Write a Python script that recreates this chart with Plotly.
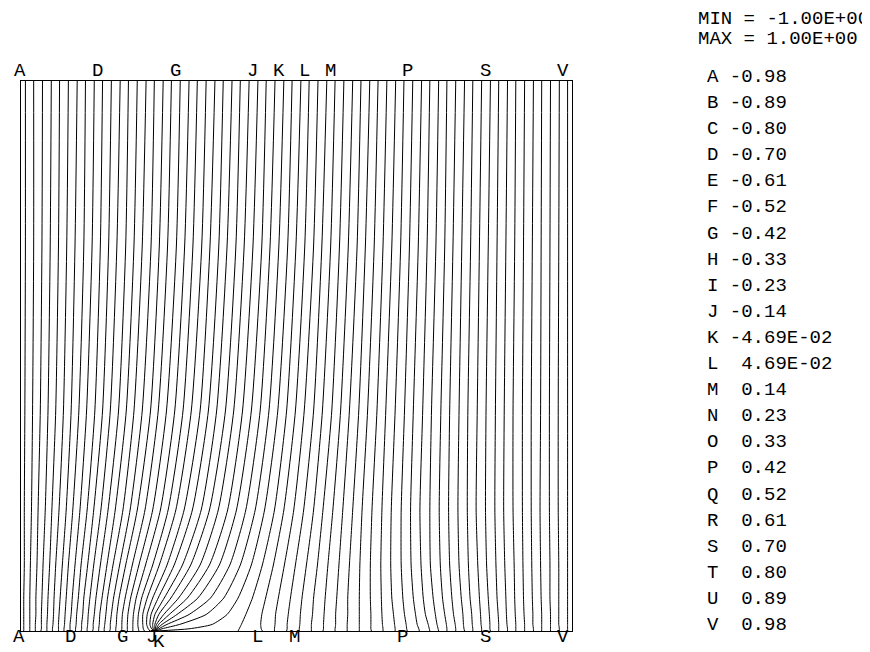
import plotly.graph_objects as go

# ---------------- data ----------------
# 64 contour levels, labelled every third one with the letters A..V
LETTERS = list("ABCDEFGHIJKLMNOPQRSTUV")
LEGEND_VALUES = ["-0.98", "-0.89", "-0.80", "-0.70", "-0.61", "-0.52", "-0.42", "-0.33", "-0.23", "-0.14",
                 "-4.69E-02", " 4.69E-02", " 0.14", " 0.23", " 0.33", " 0.42", " 0.52", " 0.61", " 0.70",
                 " 0.80", " 0.89", " 0.98"]
MIN_TEXT = "MIN = -1.00E+00"
MAX_TEXT = "MAX = 1.00E+00"
TOP_LABELLED = [0, 9, 18, 27, 30, 33, 36, 45, 54, 63]      # line indices labelled along the top edge
BOTTOM_LABELLED = [0, 9, 18, 27, 30, 33, 36, 45, 54, 63]   # line indices labelled along the bottom edge

# heights (thousandths of the box height) at which each contour line's x position was read
ROW_Y = [0, 4, 12, 30, 60, 120, 220, 400, 700, 1000]

# x position (thousandths of the box width) of each of the 64 contour lines at each height
X_Y0000 = [5, 16, 26, 36, 47, 57, 68, 78, 89, 99, 109, 120, 130, 141, 151, 161, 172, 182, 193, 203,
           214, 224, 234, 245, 245, 245, 245, 245, 245, 245, 245, 245, 394, 438, 460, 482, 505, 527, 548, 570,
           592, 614, 636, 657, 679, 701, 723, 742, 758, 773, 789, 805, 820, 836, 852, 867, 883, 898, 914, 930,
           945, 961, 977, 992]
X_Y0004 = [5, 16, 26, 37, 47, 57, 68, 78, 89, 99, 110, 120, 131, 141, 151, 162, 172, 183, 193, 203,
           213, 222, 231, 237, 240, 243, 244, 246, 247, 250, 256, 305, 396, 436, 460, 483, 505, 527, 549, 570,
           592, 614, 635, 657, 679, 700, 722, 741, 757, 773, 789, 804, 820, 836, 851, 867, 883, 898, 914, 930,
           945, 961, 977, 992]
X_Y0012 = [5, 16, 26, 37, 47, 58, 68, 79, 89, 100, 110, 121, 131, 142, 152, 162, 173, 183, 193, 203,
           212, 221, 228, 234, 239, 243, 246, 250, 256, 265, 288, 347, 400, 435, 461, 483, 506, 527, 549, 571,
           592, 614, 635, 656, 678, 699, 719, 739, 755, 772, 788, 803, 819, 835, 851, 867, 882, 898, 914, 929,
           945, 961, 976, 992]
X_Y0030 = [5, 16, 27, 37, 48, 59, 69, 80, 91, 101, 112, 122, 133, 143, 154, 164, 174, 184, 194, 204,
           213, 221, 229, 236, 243, 250, 259, 269, 283, 305, 336, 374, 408, 437, 462, 485, 507, 529, 550, 571,
           593, 614, 635, 655, 676, 696, 716, 734, 752, 769, 785, 802, 818, 834, 850, 866, 881, 897, 913, 929,
           945, 961, 976, 992]
X_Y0060 = [5, 16, 27, 38, 49, 60, 71, 82, 93, 104, 114, 125, 136, 147, 157, 168, 178, 189, 199, 209,
           219, 229, 239, 249, 260, 272, 286, 302, 321, 344, 368, 394, 420, 444, 467, 489, 510, 531, 552, 573,
           593, 614, 634, 654, 673, 693, 712, 730, 748, 765, 782, 799, 815, 832, 848, 864, 880, 896, 912, 928,
           944, 960, 976, 992]
X_Y0120 = [6, 17, 29, 40, 52, 63, 75, 86, 98, 109, 121, 132, 144, 156, 167, 179, 190, 202, 214, 226,
           239, 251, 265, 278, 293, 308, 325, 342, 360, 379, 398, 418, 438, 458, 478, 498, 518, 538, 557, 577,
           596, 615, 634, 653, 671, 690, 708, 726, 743, 761, 778, 795, 812, 829, 845, 862, 878, 895, 911, 927,
           943, 960, 976, 992]
X_Y0220 = [6, 19, 31, 44, 56, 69, 82, 94, 107, 120, 132, 145, 158, 171, 185, 198, 211, 225, 239, 253,
           267, 281, 296, 311, 327, 342, 358, 375, 391, 408, 425, 442, 460, 477, 495, 513, 531, 548, 566, 584,
           602, 619, 637, 655, 672, 690, 707, 724, 742, 759, 776, 793, 810, 826, 843, 860, 876, 893, 910, 926,
           942, 959, 975, 992]
X_Y0400 = [7, 21, 35, 49, 63, 77, 91, 105, 119, 134, 148, 162, 177, 191, 205, 220, 235, 249, 264, 279,
           294, 309, 325, 340, 355, 371, 386, 402, 418, 434, 450, 466, 482, 498, 514, 531, 547, 564, 580, 596,
           613, 629, 646, 662, 679, 696, 712, 729, 745, 762, 778, 795, 811, 828, 844, 861, 877, 893, 910, 926,
           943, 959, 975, 992]
X_Y0700 = [8, 23, 38, 53, 68, 83, 98, 114, 129, 144, 159, 174, 190, 205, 220, 236, 251, 266, 282, 297,
           312, 328, 343, 359, 374, 390, 405, 421, 437, 452, 468, 484, 499, 515, 531, 546, 562, 578, 594, 610,
           625, 641, 657, 673, 689, 705, 721, 737, 753, 769, 784, 800, 816, 832, 848, 864, 880, 896, 912, 928,
           944, 960, 976, 992]
X_Y1000 = [8, 23, 39, 55, 70, 86, 102, 117, 133, 148, 164, 180, 195, 211, 227, 242, 258, 273, 289, 305,
           320, 336, 352, 367, 383, 398, 414, 430, 445, 461, 477, 492, 508, 523, 539, 555, 570, 586, 602, 617,
           633, 648, 664, 680, 695, 711, 727, 742, 758, 773, 789, 805, 820, 836, 852, 867, 883, 898, 914, 930,
           945, 961, 977, 992]

ROWS = [X_Y0000, X_Y0004, X_Y0012, X_Y0030, X_Y0060, X_Y0120, X_Y0220, X_Y0400, X_Y0700, X_Y1000]

# ---------------- layout constants ----------------
W, H = 870, 652
L_PX, R_PX, T_PX, B_PX = 13, 564, 73, 623
FONT = dict(family="Liberation Mono, Courier New, monospace", size=19, color="black")

fig = go.Figure()
for j in range(len(X_Y1000)):
    fig.add_trace(go.Scatter(
        x=[row[j] for row in ROWS], y=ROW_Y, mode="lines",
        line=dict(color="black", width=1, shape="spline", smoothing=0.6),
        hoverinfo="skip", showlegend=False))

ann = []
for i in TOP_LABELLED:
    ann.append(dict(x=X_Y1000[i], y=1000, xref="x", yref="y", text=LETTERS[i // 3], showarrow=False,
                    yanchor="middle", yshift=10, xshift=-5, font=FONT))
for i in BOTTOM_LABELLED:
    is_k = LETTERS[i // 3] == "K"
    ann.append(dict(x=X_Y0000[i], y=0, xref="x", yref="y", text=LETTERS[i // 3], showarrow=False,
                    yanchor="middle", yshift=-11 if is_k else -6, xshift=3 if is_k else -5,
                    font=FONT, borderpad=0))


def px(xp):
    return (xp - L_PX) / (R_PX - L_PX)


def py(yp):
    return (B_PX - yp) / (B_PX - T_PX)


ann.append(dict(x=px(688), y=py(11), xref="paper", yref="paper", text=MIN_TEXT.replace(" ", "&nbsp;"),
                showarrow=False, xanchor="left", yanchor="middle", font=FONT))
ann.append(dict(x=px(688), y=py(31), xref="paper", yref="paper", text=MAX_TEXT.replace(" ", "&nbsp;"),
                showarrow=False, xanchor="left", yanchor="middle", font=FONT))
for i, (lt, vv) in enumerate(zip(LETTERS, LEGEND_VALUES)):
    yp = 69 + i * (617 - 69) / (len(LETTERS) - 1)
    ann.append(dict(x=px(697), y=py(yp), xref="paper", yref="paper", text=(lt + " " + vv).replace(" ", "&nbsp;"),
                    showarrow=False, xanchor="left", yanchor="middle", font=FONT))

fig.update_layout(width=W, height=H, margin=dict(l=L_PX, r=W - R_PX, t=T_PX, b=H - B_PX),
                  paper_bgcolor="white", plot_bgcolor="white", annotations=ann)
fig.update_xaxes(range=[0, 1000], showgrid=False, zeroline=False, showticklabels=False, ticks="",
                 showline=True, mirror=True, linecolor="black", linewidth=1)
fig.update_yaxes(range=[0, 1000], showgrid=False, zeroline=False, showticklabels=False, ticks="",
                 showline=True, mirror=True, linecolor="black", linewidth=1)
fig.write_html("out.html")
